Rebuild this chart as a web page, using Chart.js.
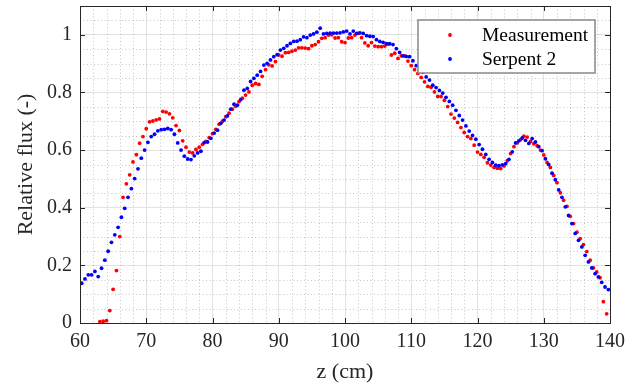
<!DOCTYPE html>
<html>
<head>
<meta charset="utf-8">
<script src="https://cdn.jsdelivr.net/npm/chart.js@4.4.0/dist/chart.umd.min.js"></script>
<style>
  html, body { margin: 0; padding: 0; background: #fff; }
  #fluxChart { display: block; }
</style>
</head>
<body>
<canvas id="fluxChart" width="642" height="388"></canvas>
<script>
// axial positions (cm) and relative flux
const zSerpent = [
  60.25, 60.75, 61.25, 61.75, 62.25, 62.75, 63.25, 63.75, 64.25, 64.75,
  65.25, 65.75, 66.25, 66.75, 67.25, 67.75, 68.25, 68.75, 69.25, 69.75,
  70.25, 70.75, 71.25, 71.75, 72.25, 72.75, 73.25, 73.75, 74.25, 74.75,
  75.25, 75.75, 76.25, 76.75, 77.25, 77.75, 78.25, 78.75, 79.25, 79.75,
  80.25, 80.75, 81.25, 81.75, 82.25, 82.75, 83.25, 83.75, 84.25, 84.75,
  85.25, 85.75, 86.25, 86.75, 87.25, 87.75, 88.25, 88.75, 89.25, 89.75,
  90.25, 90.75, 91.25, 91.75, 92.25, 92.75, 93.25, 93.75, 94.25, 94.75,
  95.25, 95.75, 96.25, 96.75, 97.25, 97.75, 98.25, 98.75, 99.25, 99.75,
  100.25, 100.75, 101.25, 101.75, 102.25, 102.75, 103.25, 103.75, 104.25, 104.75,
  105.25, 105.75, 106.25, 106.75, 107.25, 107.75, 108.25, 108.75, 109.25, 109.75,
  110.25, 110.75, 111.25, 111.75, 112.25, 112.75, 113.25, 113.75, 114.25, 114.75,
  115.25, 115.75, 116.25, 116.75, 117.25, 117.75, 118.25, 118.75, 119.25, 119.75,
  120.25, 120.75, 121.25, 121.75, 122.25, 122.75, 123.25, 123.75, 124.25, 124.75,
  125.25, 125.75, 126.25, 126.75, 127.25, 127.75, 128.25, 128.75, 129.25, 129.75,
  130.25, 130.75, 131.25, 131.75, 132.25, 132.75, 133.25, 133.75, 134.25, 134.75,
  135.25, 135.75, 136.25, 136.75, 137.25, 137.75, 138.25, 138.75, 139.25, 139.75
];
const serpent = [
  0.138, 0.153, 0.167, 0.167, 0.179, 0.161, 0.190, 0.218, 0.249, 0.280,
  0.306, 0.332, 0.367, 0.398, 0.436, 0.466, 0.501, 0.535, 0.572, 0.600,
  0.627, 0.647, 0.655, 0.667, 0.671, 0.672, 0.675, 0.671, 0.655, 0.625,
  0.600, 0.579, 0.569, 0.567, 0.580, 0.590, 0.596, 0.626, 0.628, 0.641,
  0.659, 0.669, 0.693, 0.704, 0.719, 0.742, 0.759, 0.756, 0.775, 0.808,
  0.814, 0.838, 0.849, 0.860, 0.873, 0.895, 0.901, 0.913, 0.924, 0.931,
  0.947, 0.953, 0.962, 0.970, 0.977, 0.978, 0.983, 0.993, 0.990, 0.999,
  1.003, 1.009, 1.023, 1.003, 1.005, 1.006, 1.006, 1.006, 1.007, 1.010,
  1.013, 1.003, 1.013, 1.005, 1.007, 1.005, 0.997, 0.995, 0.994, 0.983,
  0.977, 0.974, 0.969, 0.969, 0.966, 0.952, 0.939, 0.927, 0.925, 0.924,
  0.910, 0.893, 0.882, 0.870, 0.854, 0.843, 0.825, 0.817, 0.807, 0.798,
  0.783, 0.769, 0.756, 0.738, 0.720, 0.704, 0.684, 0.666, 0.651, 0.638,
  0.619, 0.603, 0.585, 0.568, 0.557, 0.548, 0.546, 0.549, 0.553, 0.568,
  0.594, 0.625, 0.632, 0.642, 0.634, 0.623, 0.640, 0.628, 0.612, 0.598,
  0.570, 0.550, 0.520, 0.497, 0.462, 0.436, 0.403, 0.373, 0.345, 0.311,
  0.287, 0.264, 0.235, 0.212, 0.191, 0.171, 0.160, 0.141, 0.125, 0.116
];
const zMeasurement = [
  63, 63.5, 64, 64.5, 65, 65.5, 66, 66.5, 67, 67.5,
  68, 68.5, 69, 69.5, 70, 70.5, 71, 71.5, 72, 72.5,
  73, 73.5, 74, 74.5, 75, 75.5, 76, 76.5, 77, 77.5,
  78, 78.5, 79, 79.5, 80, 80.5, 81, 81.5, 82, 82.5,
  83, 83.5, 84, 84.5, 85, 85.5, 86, 86.5, 87, 87.5,
  88, 88.5, 89, 89.5, 90, 90.5, 91, 91.5, 92, 92.5,
  93, 93.5, 94, 94.5, 95, 95.5, 96, 96.5, 97, 97.5,
  98, 98.5, 99, 99.5, 100, 100.5, 101, 101.5, 102, 102.5,
  103, 103.5, 104, 104.5, 105, 105.5, 106, 106.5, 107, 107.5,
  108, 108.5, 109, 109.5, 110, 110.5, 111, 111.5, 112, 112.5,
  113, 113.5, 114, 114.5, 115, 115.5, 116, 116.5, 117, 117.5,
  118, 118.5, 119, 119.5, 120, 120.5, 121, 121.5, 122, 122.5,
  123, 123.5, 124, 124.5, 125, 125.5, 126, 126.5, 127, 127.5,
  128, 128.5, 129, 129.5, 130, 130.5, 131, 131.5, 132, 132.5,
  133, 133.5, 134, 134.5, 135, 135.5, 136, 136.5, 137, 137.5,
  138, 138.5, 139, 139.5
];
const measurement = [
  0.005, 0.006, 0.008, 0.043, 0.117, 0.182, 0.300, 0.436, 0.483, 0.514,
  0.559, 0.584, 0.624, 0.647, 0.674, 0.698, 0.701, 0.705, 0.708, 0.734,
  0.732, 0.726, 0.712, 0.685, 0.668, 0.632, 0.610, 0.593, 0.590, 0.602,
  0.610, 0.620, 0.630, 0.643, 0.657, 0.672, 0.690, 0.700, 0.716, 0.728,
  0.742, 0.752, 0.768, 0.780, 0.791, 0.802, 0.825, 0.831, 0.828, 0.856,
  0.879, 0.896, 0.892, 0.907, 0.930, 0.926, 0.938, 0.939, 0.943, 0.947,
  0.955, 0.955, 0.954, 0.952, 0.962, 0.966, 0.976, 0.988, 0.990, 0.999,
  1.000, 0.989, 0.990, 0.976, 0.973, 0.989, 0.990, 0.999, 1.005, 0.990,
  0.972, 0.962, 0.973, 0.961, 0.959, 0.959, 0.961, 0.968, 0.930, 0.936,
  0.918, 0.927, 0.927, 0.909, 0.893, 0.879, 0.866, 0.852, 0.837, 0.821,
  0.818, 0.802, 0.786, 0.786, 0.773, 0.751, 0.725, 0.711, 0.696, 0.678,
  0.661, 0.647, 0.640, 0.617, 0.593, 0.585, 0.575, 0.556, 0.548, 0.540,
  0.537, 0.536, 0.545, 0.563, 0.588, 0.612, 0.625, 0.636, 0.648, 0.645,
  0.630, 0.622, 0.615, 0.600, 0.583, 0.557, 0.540, 0.512, 0.487, 0.452,
  0.426, 0.405, 0.370, 0.345, 0.315, 0.293, 0.272, 0.248, 0.218, 0.191,
  0.177, 0.157, 0.074, 0.032
];
const xTicks = [60, 70, 80, 90, 100, 110, 120, 130, 140];
const yTicks = [0, 0.2, 0.4, 0.6, 0.8, 1];

const axisColor = '#262626';
const serif = "'Liberation Serif', 'DejaVu Serif', serif";

function toPoints(zs, vals) {
  return zs.map((z, i) => ({ x: z, y: vals[i] }));
}

// MATLAB-like axes: dotted minor grid, box and inward ticks on every side
const matlabAxes = {
  id: 'matlabAxes',
  beforeDatasetsDraw(chart) {
    const { ctx, chartArea: a, scales: { x, y } } = chart;
    ctx.save();
    ctx.strokeStyle = 'rgba(0, 0, 0, 0.22)';
    ctx.lineWidth = 1;
    ctx.setLineDash([1, 2.5]);
    ctx.beginPath();
    for (let v = x.min + 2; v < x.max; v += 2) {
      if (v % 10 === 0) continue;
      const px = Math.round(x.getPixelForValue(v)) + 0.5;
      ctx.moveTo(px, a.top);
      ctx.lineTo(px, a.bottom);
    }
    for (let i = 1; i * 0.05 < y.max; i++) {
      if (i % 4 === 0) continue;
      const py = Math.round(y.getPixelForValue(i * 0.05)) + 0.5;
      ctx.moveTo(a.left, py);
      ctx.lineTo(a.right, py);
    }
    ctx.stroke();
    ctx.restore();
  },
  afterDatasetsDraw(chart) {
    const { ctx, chartArea: a, scales: { x, y } } = chart;
    const len = 5;
    ctx.save();
    ctx.strokeStyle = axisColor;
    ctx.lineWidth = 1;
    ctx.beginPath();
    xTicks.forEach(v => {
      const px = Math.round(x.getPixelForValue(v)) + 0.5;
      ctx.moveTo(px, a.bottom); ctx.lineTo(px, a.bottom - len);
      ctx.moveTo(px, a.top); ctx.lineTo(px, a.top + len);
    });
    yTicks.forEach(v => {
      const py = Math.round(y.getPixelForValue(v)) + 0.5;
      ctx.moveTo(a.left, py); ctx.lineTo(a.left + len, py);
      ctx.moveTo(a.right, py); ctx.lineTo(a.right - len, py);
    });
    ctx.stroke();
    ctx.strokeRect(Math.round(a.left) + 0.5, Math.round(a.top) + 0.5,
      Math.round(a.right - a.left), Math.round(a.bottom - a.top));
    ctx.restore();
  }
};

// legend drawn inside the plot, top right, with a box
const boxLegend = {
  id: 'boxLegend',
  afterDraw(chart) {
    const { ctx, chartArea: a } = chart;
    const w = 177, h = 53;
    const left = a.right - 15 - w, top = a.top + 14;
    ctx.save();
    ctx.fillStyle = '#fff';
    ctx.fillRect(left, top, w, h);
    ctx.strokeStyle = '#888';
    ctx.lineWidth = 1.5;
    ctx.strokeRect(left, top, w, h);
    ctx.font = '19.5px ' + serif;
    ctx.textBaseline = 'middle';
    chart.data.datasets.forEach((ds, i) => {
      const cy = top + 15 + i * 24;
      ctx.fillStyle = ds.backgroundColor;
      ctx.beginPath();
      ctx.arc(left + 32, cy, 1.9, 0, Math.PI * 2);
      ctx.fill();
      ctx.fillStyle = '#000';
      ctx.fillText(ds.label, left + 64, cy + 1);
    });
    ctx.restore();
  }
};

// keep the plot box fixed: no extra padding for edge tick labels
function noEdgePadding(s) {
  s.paddingTop = 0;
  s.paddingBottom = 0;
  s.paddingLeft = 0;
  s.paddingRight = 0;
}

const ctx = document.getElementById('fluxChart').getContext('2d');
const fluxChart = new Chart(ctx, {
  type: 'scatter',
  data: {
    datasets: [
      {
        label: 'Measurement',
        data: toPoints(zMeasurement, measurement),
        backgroundColor: '#ff0000',
        borderWidth: 0,
        pointRadius: 1.9,
        order: 2
      },
      {
        label: 'Serpent 2',
        data: toPoints(zSerpent, serpent),
        backgroundColor: '#0000ff',
        borderWidth: 0,
        pointRadius: 1.9,
        order: 1
      }
    ]
  },
  options: {
    responsive: false,
    animation: false,
    devicePixelRatio: 1,
    layout: { padding: { top: 6, right: 32, left: 0, bottom: 0 } },
    scales: {
      x: {
        type: 'linear',
        min: 60,
        max: 140,
        afterBuildTicks: s => { s.ticks = xTicks.map(v => ({ value: v })); },
        afterFit: s => { s.height = 65; noEdgePadding(s); },
        grid: { color: '#e2e2e2', drawTicks: false },
        border: { display: false },
        ticks: {
          padding: 7,
          color: axisColor,
          font: { family: serif, size: 20 },
          callback: v => String(v)
        },
        title: {
          display: true,
          text: 'z (cm)',
          color: axisColor,
          font: { family: serif, size: 22 },
          padding: { top: 0, bottom: 3 }
        }
      },
      y: {
        type: 'linear',
        min: 0,
        max: 1.1,
        afterBuildTicks: s => { s.ticks = yTicks.map(v => ({ value: v })); },
        afterFit: s => { s.width = 80; noEdgePadding(s); },
        grid: { color: '#e2e2e2', drawTicks: false },
        border: { display: false },
        ticks: {
          padding: 8,
          color: axisColor,
          font: { family: serif, size: 20 },
          callback: v => String(v)
        },
        title: {
          display: true,
          text: 'Relative flux (-)',
          color: axisColor,
          font: { family: serif, size: 22 },
          padding: { top: 13, bottom: 0 }
        }
      }
    },
    plugins: {
      legend: { display: false },
      tooltip: { enabled: false }
    }
  },
  plugins: [matlabAxes, boxLegend]
});
</script>
</body>
</html>
